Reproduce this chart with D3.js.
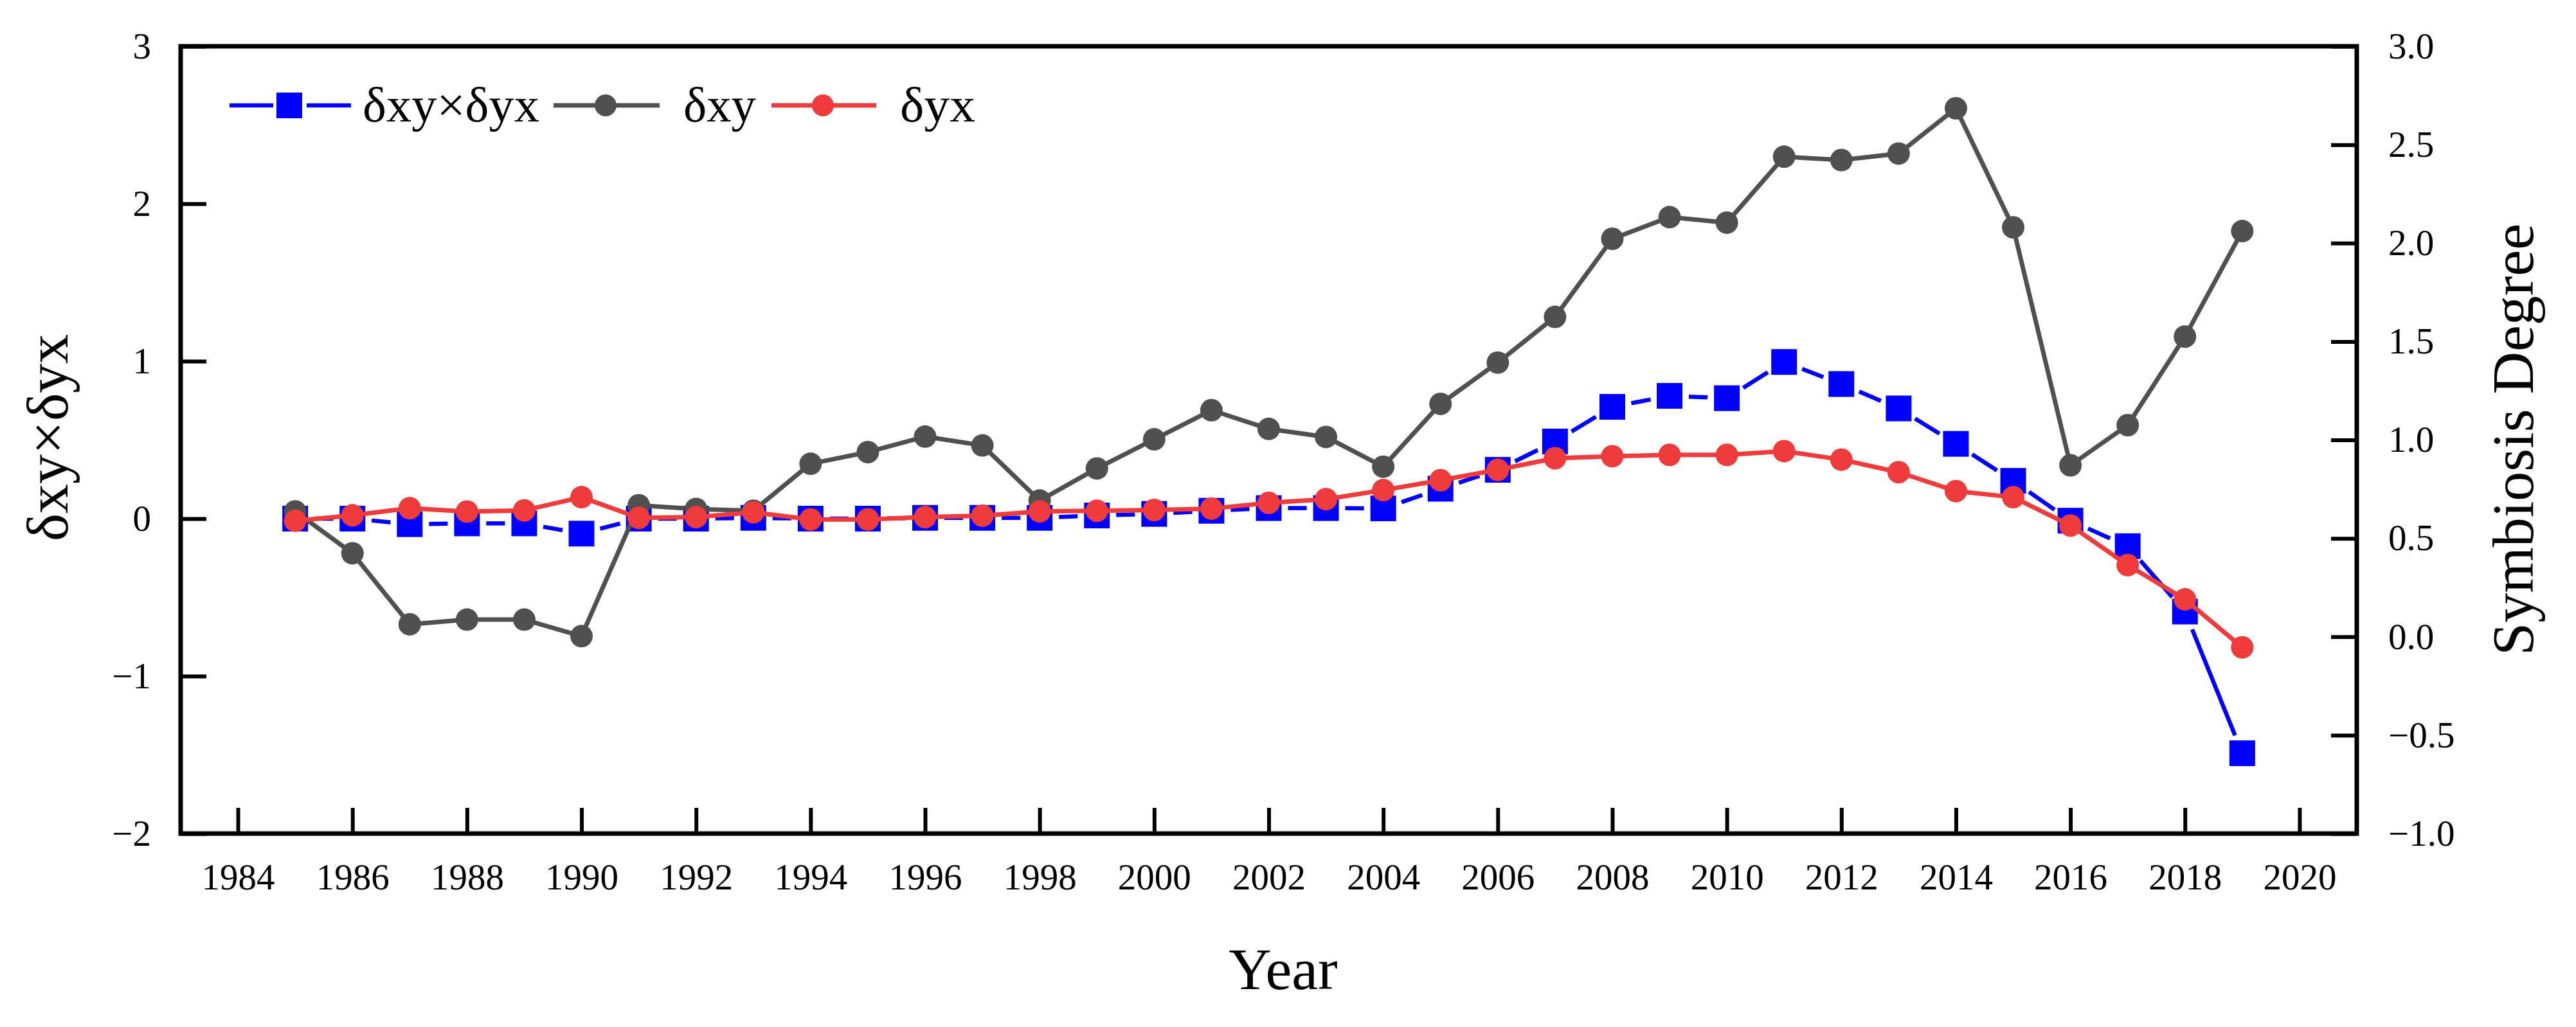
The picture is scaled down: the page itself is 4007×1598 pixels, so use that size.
<!DOCTYPE html>
<html>
<head>
<meta charset="utf-8">
<script src="https://cdn.jsdelivr.net/npm/d3@7"></script>
<style>
  html, body { margin: 0; padding: 0; background: #ffffff; }
  svg { display: block; }
</style>
</head>
<body>
<script>
// ---------------- DATA ----------------
const years = [1985, 1986, 1987, 1988, 1989, 1990, 1991, 1992, 1993, 1994,
               1995, 1996, 1997, 1998, 1999, 2000, 2001, 2002, 2003, 2004,
               2005, 2006, 2007, 2008, 2009, 2010, 2011, 2012, 2013, 2014,
               2015, 2016, 2017, 2018, 2019];

// δxy×δyx (left axis)
const productVals = [0.00, 0.00, -0.035, -0.03, -0.03, -0.095, 0.00, 0.00, 0.005, 0.00,
                     0.00, 0.005, 0.005, 0.005, 0.02, 0.03, 0.05, 0.067, 0.067, 0.065,
                     0.19, 0.31, 0.49, 0.71, 0.78, 0.765, 0.995, 0.855, 0.70, 0.475,
                     0.24, -0.013, -0.175, -0.59, -1.49];

// δxy (right axis, Symbiosis Degree)
const dxyVals = [0.637, 0.424, 0.063, 0.087, 0.087, 0.003, 0.668, 0.649, 0.640, 0.879,
                 0.938, 1.017, 0.972, 0.692, 0.855, 1.003, 1.151, 1.056, 1.015, 0.864,
                 1.183, 1.393, 1.625, 2.022, 2.132, 2.104, 2.439, 2.422, 2.455, 2.685,
                 2.080, 0.871, 1.075, 1.525, 2.061];

// δyx (right axis, Symbiosis Degree)
const dyxVals = [0.589, 0.617, 0.653, 0.636, 0.642, 0.709, 0.604, 0.608, 0.632, 0.596,
                 0.596, 0.608, 0.615, 0.637, 0.640, 0.644, 0.651, 0.680, 0.699, 0.745,
                 0.795, 0.848, 0.907, 0.917, 0.924, 0.924, 0.943, 0.900, 0.836, 0.740,
                 0.709, 0.565, 0.364, 0.190, -0.054];

const xTicks = [1984, 1986, 1988, 1990, 1992, 1994, 1996, 1998, 2000, 2002,
                2004, 2006, 2008, 2010, 2012, 2014, 2016, 2018, 2020];
const leftTicks = [-2, -1, 0, 1, 2, 3];
const rightTicks = [-1.0, -0.5, 0.0, 0.5, 1.0, 1.5, 2.0, 2.5, 3.0];
const seriesNames = ["δxy×δyx", "δxy", "δyx"];
const seriesColors = ["#0000ff", "#505050", "#ef3b3b"];
const xTitle = "Year";
const yLeftTitle = "δxy×δyx";
const yRightTitle = "Symbiosis Degree";

// ---------------- LAYOUT ----------------
const W = 4007, H = 1598;
const L = 281, R = 3666, T = 72, B = 1297;
const FONT = "'Liberation Serif', 'Times New Roman', serif";

const svg = d3.select("body").append("svg")
  .attr("width", W).attr("height", H)
  .attr("viewBox", `0 0 ${W} ${H}`);
svg.append("rect").attr("width", W).attr("height", H).attr("fill", "#fff");

const x = d3.scaleLinear().domain([1983, 2021]).range([L, R]);
const yL = d3.scaleLinear().domain([-2, 3]).range([B, T]);
const yR = d3.scaleLinear().domain([-1, 3]).range([B, T]);

// ---------------- AXES ----------------
function styleAxis(g, size) {
  g.select(".domain").remove();
  g.selectAll(".tick line").attr("stroke", "#000").attr("stroke-width", 6);
  g.selectAll(".tick text")
    .attr("font-family", FONT).attr("font-size", size).attr("fill", "#000");
}

svg.append("g").attr("transform", `translate(0,${B})`)
  .call(d3.axisBottom(x).tickValues(xTicks).tickFormat(d3.format("d"))
        .tickSize(-40).tickPadding(47))
  .call(g => styleAxis(g, 57));

svg.append("g").attr("transform", `translate(${L},0)`)
  .call(d3.axisLeft(yL).tickValues(leftTicks).tickFormat(d3.format("d"))
        .tickSize(-40).tickPadding(46))
  .call(g => styleAxis(g, 57));

svg.append("g").attr("transform", `translate(${R},0)`)
  .call(d3.axisRight(yR).tickValues(rightTicks).tickFormat(d3.format(".1f"))
        .tickSize(-40).tickPadding(49))
  .call(g => styleAxis(g, 57));

// frame
svg.append("rect")
  .attr("x", L).attr("y", T).attr("width", R - L).attr("height", B - T)
  .attr("fill", "none").attr("stroke", "#000").attr("stroke-width", 7);

// ---------------- TITLES ----------------
svg.append("text").text(xTitle)
  .attr("x", 1996).attr("y", 1539).attr("text-anchor", "middle")
  .attr("font-family", FONT).attr("font-size", 92).attr("fill", "#000");

svg.append("text").text(yLeftTitle)
  .attr("transform", "translate(105,681) rotate(-90)")
  .attr("text-anchor", "middle")
  .attr("font-family", FONT).attr("font-size", 92).attr("fill", "#000");

svg.append("text").text(yRightTitle)
  .attr("transform", "translate(3940,684) rotate(-90)")
  .attr("text-anchor", "middle")
  .attr("font-family", FONT).attr("font-size", 92).attr("fill", "#000");

// ---------------- SERIES ----------------
const prodPts = years.map((yr, i) => [x(yr), yL(productVals[i])]);
const dxyPts = years.map((yr, i) => [x(yr), yR(dxyVals[i])]);
const dyxPts = years.map((yr, i) => [x(yr), yR(dyxVals[i])]);

// δxy×δyx : line segments with a gap to each square symbol
const GAP = 30;
const segs = d3.pairs(prodPts).map(([p0, p1]) => {
  const dx = p1[0] - p0[0], dy = p1[1] - p0[1];
  const len = Math.hypot(dx, dy);
  const ux = dx / len, uy = dy / len;
  return [p0[0] + ux * GAP, p0[1] + uy * GAP, p1[0] - ux * GAP, p1[1] - uy * GAP, len];
}).filter(s => s[4] > 2 * GAP);

const gBlue = svg.append("g");
gBlue.selectAll("line").data(segs).join("line")
  .attr("x1", d => d[0]).attr("y1", d => d[1])
  .attr("x2", d => d[2]).attr("y2", d => d[3])
  .attr("stroke", seriesColors[0]).attr("stroke-width", 6.5);
gBlue.selectAll("rect").data(prodPts).join("rect")
  .attr("x", d => d[0] - 20).attr("y", d => d[1] - 20)
  .attr("width", 40).attr("height", 40)
  .attr("fill", seriesColors[0]);

const line = d3.line();

const gGray = svg.append("g");
gGray.append("path").attr("d", line(dxyPts))
  .attr("fill", "none").attr("stroke", seriesColors[1]).attr("stroke-width", 7)
  .attr("stroke-linejoin", "round");
gGray.selectAll("circle").data(dxyPts).join("circle")
  .attr("cx", d => d[0]).attr("cy", d => d[1]).attr("r", 17.5)
  .attr("fill", seriesColors[1]);

const gRed = svg.append("g");
gRed.append("path").attr("d", line(dyxPts))
  .attr("fill", "none").attr("stroke", seriesColors[2]).attr("stroke-width", 7)
  .attr("stroke-linejoin", "round");
gRed.selectAll("circle").data(dyxPts).join("circle")
  .attr("cx", d => d[0]).attr("cy", d => d[1]).attr("r", 17.5)
  .attr("fill", seriesColors[2]);

// ---------------- LEGEND ----------------
const LY = 164;
const legendItems = [
  { name: seriesNames[0], color: seriesColors[0], x0: 357, x1: 546, mx: 450, sym: "square", tx: 564, tw: 275 },
  { name: seriesNames[1], color: seriesColors[1], x0: 861, x1: 1026, mx: 942, sym: "circle", tx: 1063, tw: 113 },
  { name: seriesNames[2], color: seriesColors[2], x0: 1200, x1: 1363, mx: 1280, sym: "circle", tx: 1400, tw: 117 }
];
const lg = svg.append("g");
legendItems.forEach(it => {
  if (it.sym === "square") {
    lg.append("line").attr("x1", it.x0).attr("x2", it.mx - 25).attr("y1", LY).attr("y2", LY)
      .attr("stroke", it.color).attr("stroke-width", 6.5);
    lg.append("line").attr("x1", it.mx + 27).attr("x2", it.x1).attr("y1", LY).attr("y2", LY)
      .attr("stroke", it.color).attr("stroke-width", 6.5);
    lg.append("rect").attr("x", it.mx - 20).attr("y", LY - 20).attr("width", 40).attr("height", 40)
      .attr("fill", it.color);
  } else {
    lg.append("line").attr("x1", it.x0).attr("x2", it.x1).attr("y1", LY).attr("y2", LY)
      .attr("stroke", it.color).attr("stroke-width", 7);
    lg.append("circle").attr("cx", it.mx).attr("cy", LY).attr("r", 17)
      .attr("fill", it.color);
  }
  lg.append("text").text(it.name)
    .attr("x", it.tx).attr("y", 189)
    .attr("textLength", it.tw).attr("lengthAdjust", "spacingAndGlyphs")
    .attr("font-family", FONT).attr("font-size", 76).attr("fill", "#000");
});
</script>
</body>
</html>
